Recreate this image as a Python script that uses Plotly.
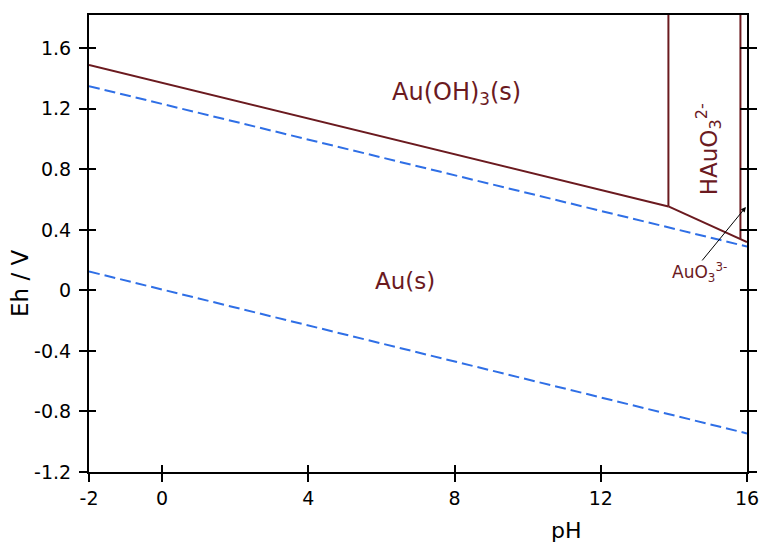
import plotly.graph_objects as go

# Boundary lines
b1_ph = [-2, 13.85]
b1_eh = [1.49, 0.555]
b2_ph = [13.85, 15.82, 16]
b2_eh = [0.555, 0.34, 0.32]
v1_ph = [13.85, 13.85]
v1_eh = [0.555, 1.82]
v2_ph = [15.82, 15.82]
v2_eh = [0.34, 1.82]
# water stability lines
wu_ph = [-2, 16]
wu_eh = [1.35, 0.29]
wl_ph = [-2, 16]
wl_eh = [0.125, -0.945]

x_ticks = [-2, 0, 4, 8, 12, 16]
y_ticks = [-1.2, -0.8, -0.4, 0, 0.4, 0.8, 1.2, 1.6]
y_labels = ["-1.2", "-0.8", "-0.4", "0", "0.4", "0.8", "1.2", "1.6"]

BROWN = "#6b1a1f"
BLUE = "#2f6fe6"
FONT = "DejaVu Sans"

fig = go.Figure()
for xs, ys in [(b1_ph, b1_eh), (b2_ph, b2_eh), (v1_ph, v1_eh), (v2_ph, v2_eh)]:
    fig.add_trace(go.Scatter(x=xs, y=ys, mode="lines",
                             line=dict(color=BROWN, width=2), showlegend=False, hoverinfo="skip"))
for xs, ys in [(wu_ph, wu_eh), (wl_ph, wl_eh)]:
    fig.add_trace(go.Scatter(x=xs, y=ys, mode="lines",
                             line=dict(color=BLUE, width=2, dash="11px,5px"), showlegend=False,
                             hoverinfo="skip"))

# dummy trace for overlay axes
fig.add_trace(go.Scatter(x=[None], y=[None], xaxis="x2", yaxis="y2", showlegend=False))

fig.add_annotation(x=8.04, y=1.30, text="Au(OH)<sub>3</sub>(s)", showarrow=False,
                   font=dict(family=FONT, size=24, color=BROWN))
fig.add_annotation(x=6.64, y=0.062, text="Au(s)", showarrow=False,
                   font=dict(family=FONT, size=23, color=BROWN))
fig.add_annotation(x=14.95, y=0.93, text="HAuO<sub>3</sub><sup>2-</sup>", showarrow=False,
                   textangle=-90, font=dict(family=FONT, size=23, color=BROWN))
fig.add_annotation(x=14.71, y=0.12, text="AuO<sub>3</sub><sup>3-</sup>", showarrow=False,
                   font=dict(family=FONT, size=17, color=BROWN))
fig.add_annotation(x=15.97, y=0.551, ax=14.74, ay=0.188, axref="x", ayref="y",
                   text="", showarrow=True, arrowhead=2, arrowsize=1, arrowwidth=1,
                   arrowcolor="black")

# axis titles (positioned as in the reference)
fig.add_annotation(xref="paper", yref="paper", x=0.7264, y=-0.129, text="pH",
                   showarrow=False, xanchor="center", yanchor="middle",
                   font=dict(family=FONT, size=22, color="black"))
fig.add_annotation(xref="paper", yref="paper", x=-0.1049, y=0.4136, text="Eh / V",
                   showarrow=False, xanchor="center", yanchor="middle", textangle=-90,
                   font=dict(family=FONT, size=23, color="black"))

axis_common = dict(showgrid=False, zeroline=False, linecolor="black", linewidth=2,
                   tickcolor="black", tickwidth=2, automargin=False,
                   tickfont=dict(family=FONT, size=19, color="black"))

fig.update_layout(
    width=760, height=543,
    margin=dict(l=89, r=13, t=15, b=71),
    paper_bgcolor="white", plot_bgcolor="white",
    xaxis=dict(range=[-2, 16], tickvals=x_ticks, ticktext=[str(v) for v in x_ticks],
               ticks="outside", ticklen=8, mirror=True, showline=True,
               **axis_common),
    yaxis=dict(range=[-1.2, 1.82], tickvals=y_ticks, ticktext=y_labels,
               ticks="outside", ticklen=8, mirror="allticks", showline=True,
               ticklabelstandoff=4,
               **axis_common),
    xaxis2=dict(range=[-2, 16], overlaying="x", tickvals=x_ticks, showticklabels=False,
                ticks="inside", ticklen=7, tickcolor="black", tickwidth=2, automargin=False,
                showgrid=False, zeroline=False, showline=False, side="bottom"),
    yaxis2=dict(range=[-1.2, 1.82], overlaying="y", tickvals=y_ticks, showticklabels=False,
                ticks="inside", ticklen=7, tickcolor="black", tickwidth=2, mirror="allticks",
                automargin=False,
                showgrid=False, zeroline=False, showline=False, side="left"),
)

fig.write_html("out.html", config={"displayModeBar": False},
               post_script="document.body.style.margin='0px';")
